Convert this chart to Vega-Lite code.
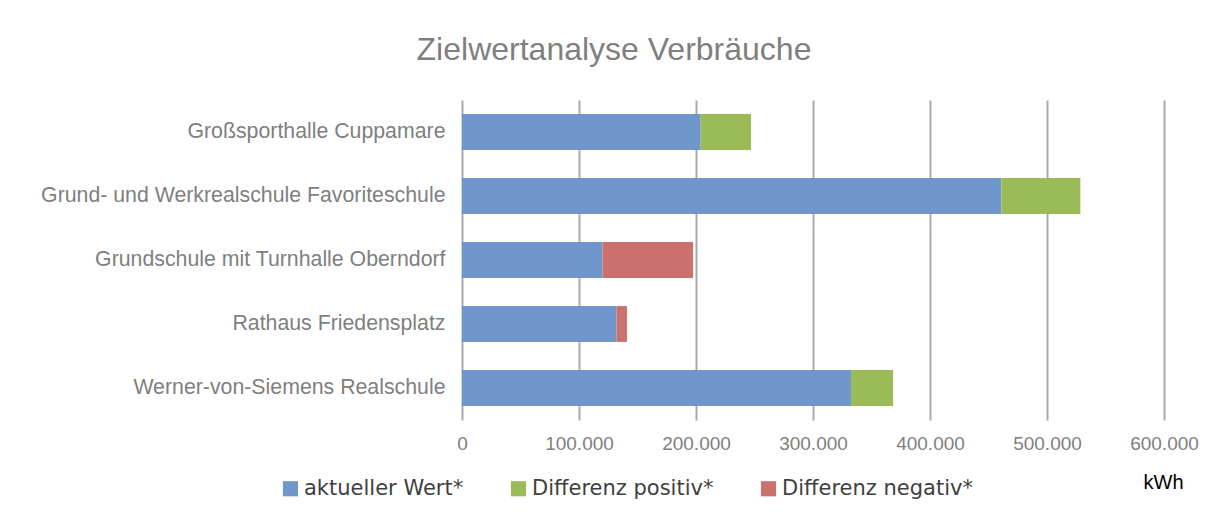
{
  "$schema": "https://vega.github.io/schema/vega-lite/v6.json",
  "width": 702,
  "height": 320,
  "autosize": {"type": "none"},
  "padding": {"left": 462, "top": 100, "right": 51, "bottom": 95},
  "background": "white",
  "title": {
    "text": "Zielwertanalyse Verbräuche",
    "font": "Liberation Sans",
    "fontSize": 32,
    "fontWeight": "normal",
    "color": "#7f7f7f",
    "anchor": "middle",
    "frame": "group",
    "dx": -199,
    "offset": 33
  },
  "data": {
    "values": [
      {"gebaeude": "Großsporthalle Cuppamare", "serie": "aktueller Wert*", "ord": 1, "wert": 204000},
      {"gebaeude": "Großsporthalle Cuppamare", "serie": "Differenz positiv*", "ord": 2, "wert": 43000},
      {"gebaeude": "Grund- und Werkrealschule Favoriteschule", "serie": "aktueller Wert*", "ord": 1, "wert": 461000},
      {"gebaeude": "Grund- und Werkrealschule Favoriteschule", "serie": "Differenz positiv*", "ord": 2, "wert": 67500},
      {"gebaeude": "Grundschule mit Turnhalle Oberndorf", "serie": "aktueller Wert*", "ord": 1, "wert": 120000},
      {"gebaeude": "Grundschule mit Turnhalle Oberndorf", "serie": "Differenz negativ*", "ord": 3, "wert": 77500},
      {"gebaeude": "Rathaus Friedensplatz", "serie": "aktueller Wert*", "ord": 1, "wert": 132000},
      {"gebaeude": "Rathaus Friedensplatz", "serie": "Differenz negativ*", "ord": 3, "wert": 9000},
      {"gebaeude": "Werner-von-Siemens Realschule", "serie": "aktueller Wert*", "ord": 1, "wert": 332500},
      {"gebaeude": "Werner-von-Siemens Realschule", "serie": "Differenz positiv*", "ord": 2, "wert": 36000}
    ]
  },
  "mark": {"type": "bar"},
  "encoding": {
    "y": {
      "field": "gebaeude",
      "type": "nominal",
      "sort": null,
      "scale": {"paddingInner": 0.44, "paddingOuter": 0.22},
      "axis": {
        "title": null,
        "domain": false,
        "ticks": false,
        "labelFont": "Liberation Sans",
        "labelFontSize": 21.3,
        "labelColor": "#7f7f7f",
        "labelPadding": 17,
        "labelLimit": 600
      }
    },
    "x": {
      "field": "wert",
      "type": "quantitative",
      "stack": "zero",
      "scale": {"domain": [0, 600000], "nice": false},
      "axis": {
        "values": [0, 100000, 200000, 300000, 400000, 500000, 600000],
        "labelExpr": "replace(format(datum.value, ','), ',', '.')",
        "grid": true,
        "gridColor": "#aaaaaa",
        "gridWidth": 2,
        "domain": false,
        "ticks": false,
        "labelFont": "Liberation Sans",
        "labelFontSize": 19,
        "labelColor": "#7f7f7f",
        "labelPadding": 14,
        "labelFlush": false,
        "title": "kWh",
        "titleFont": "Liberation Sans",
        "titleFontSize": 20,
        "titleFontWeight": "normal",
        "titleColor": "#000000",
        "titleAnchor": "end",
        "titleAlign": "right",
        "titleBaseline": "middle",
        "titleX": 721,
        "titleY": 62
      }
    },
    "color": {
      "field": "serie",
      "type": "nominal",
      "scale": {
        "domain": ["aktueller Wert*", "Differenz positiv*", "Differenz negativ*"],
        "range": ["#6f97cb", "#9bbb59", "#cb726f"]
      },
      "legend": {
        "title": null,
        "orient": "none",
        "direction": "horizontal",
        "legendX": -182,
        "legendY": 378,
        "symbolType": "square",
        "symbolSize": 230,
        "symbolStrokeWidth": 0,
        "labelFont": "DejaVu Sans",
        "labelFontSize": 21,
        "labelColor": "#404040",
        "labelLimit": 400,
        "columnPadding": 44,
        "labelOffset": 3
      }
    },
    "order": {"field": "ord", "type": "quantitative"}
  },
  "config": {
    "view": {"stroke": null}
  }
}
